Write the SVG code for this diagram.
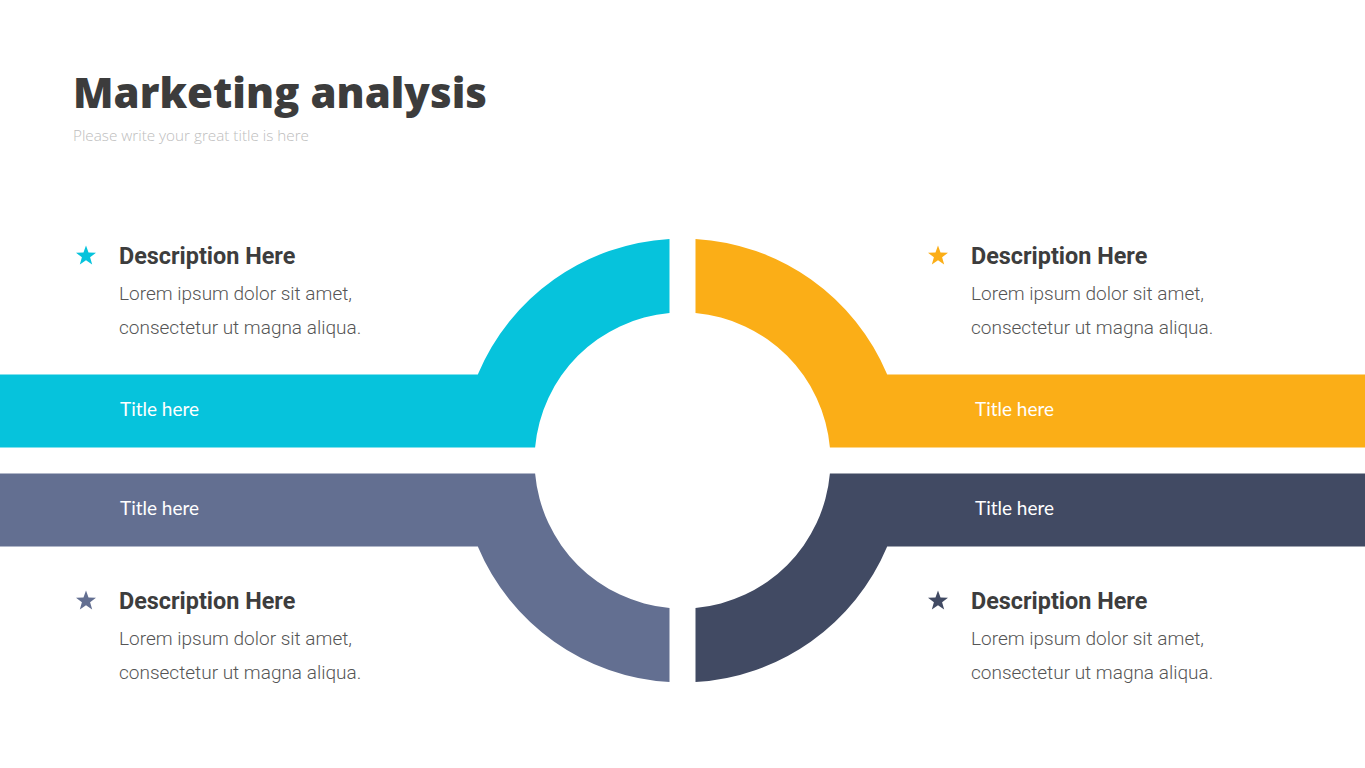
<svg xmlns="http://www.w3.org/2000/svg" width="1365" height="768" viewBox="0 0 1365 768">
<defs>
<style>
.title{font-family:"Open Sans","Liberation Sans",sans-serif;font-weight:800;font-size:43px;fill:#3C3C3C}
.sub{font-family:"Open Sans","Liberation Sans",sans-serif;font-weight:300;font-size:14px;fill:#BDBDBD}
.head{font-family:Roboto,"Liberation Sans",sans-serif;font-weight:700;font-size:23.4px;fill:#3D3D3D}
.body{font-family:Roboto,"Liberation Sans",sans-serif;font-weight:300;font-size:19px;fill:#555555}
.bar{font-family:Lato,"Liberation Sans",sans-serif;font-weight:400;font-size:19px;fill:#FFFFFF}
.c1{fill:#06C3DC}.c2{fill:#FBAE17}.c3{fill:#636F91}.c4{fill:#414A63}
</style>
<path id="star" d="M0,-10.5 L2.53,-3.48 L9.99,-3.24 L4.09,1.33 L6.17,8.49 L0,4.3 L-6.17,8.49 L-4.09,1.33 L-9.99,-3.24 L-2.53,-3.48 Z" stroke-linejoin="round"/>
</defs>
<rect width="1365" height="768" fill="#FFFFFF"/>
<g id="header">
<text class="title" x="73" y="108" textLength="414" lengthAdjust="spacingAndGlyphs">Marketing analysis</text>
<text class="sub" x="73" y="141" textLength="236" lengthAdjust="spacingAndGlyphs">Please write your great title is here</text>
</g>
<g id="node-top-left">
<path class="c1" d="M669.5,238.9 A222,222 0 0 0 477.8,374.5 L0,374.5 L0,447.5 L535.1,447.5 A148,148 0 0 1 669.5,313.1 Z"/>
<text class="bar" x="120" y="416" textLength="79" lengthAdjust="spacingAndGlyphs">Title here</text>
<use href="#star" x="86" y="256" class="c1"/>
<text class="head" x="119" y="264">Description Here</text>
<text class="body" x="119" y="300">Lorem ipsum dolor sit amet,</text>
<text class="body" x="119" y="334">consectetur ut magna aliqua.</text>
</g>
<g id="node-top-right">
<path class="c2" d="M695.5,238.9 A222,222 0 0 1 887.2,374.5 L1365,374.5 L1365,447.5 L829.9,447.5 A148,148 0 0 0 695.5,313.1 Z"/>
<text class="bar" x="975" y="416" textLength="79" lengthAdjust="spacingAndGlyphs">Title here</text>
<use href="#star" x="938" y="256" class="c2"/>
<text class="head" x="971" y="264">Description Here</text>
<text class="body" x="971" y="300">Lorem ipsum dolor sit amet,</text>
<text class="body" x="971" y="334">consectetur ut magna aliqua.</text>
</g>
<g id="node-bottom-left">
<path class="c3" d="M669.5,682.1 A222,222 0 0 1 477.8,546.5 L0,546.5 L0,473.5 L535.1,473.5 A148,148 0 0 0 669.5,607.9 Z"/>
<text class="bar" x="120" y="515" textLength="79" lengthAdjust="spacingAndGlyphs">Title here</text>
<use href="#star" x="86" y="601" class="c3"/>
<text class="head" x="119" y="609">Description Here</text>
<text class="body" x="119" y="645">Lorem ipsum dolor sit amet,</text>
<text class="body" x="119" y="679">consectetur ut magna aliqua.</text>
</g>
<g id="node-bottom-right">
<path class="c4" d="M695.5,682.1 A222,222 0 0 0 887.2,546.5 L1365,546.5 L1365,473.5 L829.9,473.5 A148,148 0 0 1 695.5,607.9 Z"/>
<text class="bar" x="975" y="515" textLength="79" lengthAdjust="spacingAndGlyphs">Title here</text>
<use href="#star" x="938" y="601" class="c4"/>
<text class="head" x="971" y="609">Description Here</text>
<text class="body" x="971" y="645">Lorem ipsum dolor sit amet,</text>
<text class="body" x="971" y="679">consectetur ut magna aliqua.</text>
</g>
<g id="connectors"/>
</svg>
